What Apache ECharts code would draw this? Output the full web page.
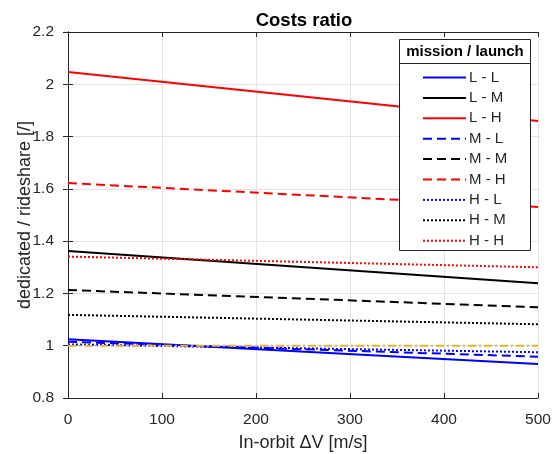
<!DOCTYPE html>
<html>
<head>
<meta charset="utf-8">
<script src="https://cdn.jsdelivr.net/npm/echarts@6/dist/echarts.min.js"></script>
<style>
  html, body { margin: 0; padding: 0; background: #fff; }
  #chart { width: 558px; height: 454px; }
</style>
</head>
<body>
<div id="chart"></div>
<script>
// In-orbit delta-V endpoints [m/s]
const deltaV = [0, 500];

// Series names (mission class / launcher class)
const seriesNames = ['L - L', 'L - M', 'L - H', 'M - L', 'M - M', 'M - H', 'H - L', 'H - M', 'H - H'];

// Cost ratio dedicated / rideshare at each delta-V endpoint
const ratioLL = [1.025, 0.930];
const ratioLM = [1.362, 1.239];
const ratioLH = [2.047, 1.860];
const ratioML = [1.015, 0.958];
const ratioMM = [1.213, 1.147];
const ratioMH = [1.622, 1.531];
const ratioHL = [1.005, 0.975];
const ratioHM = [1.118, 1.082];
const ratioHH = [1.341, 1.300];
// Break-even reference level
const breakEven = [1.0, 1.0];

const yTicks = { min: 0.8, max: 2.2, interval: 0.2 };
const xTicks = { min: 0, max: 500, interval: 100 };

const ratios = [ratioLL, ratioLM, ratioLH, ratioML, ratioMM, ratioMH, ratioHL, ratioHM, ratioHH];
const colors = ['#0000ff', '#000000', '#ff0000'];
const dashes = ['solid', [9, 5], [2, 2]];

const FONT = '"Liberation Sans", Arial, Helvetica, sans-serif';
const TXT = '#262626';

const series = ratios.map((vals, i) => ({
  name: seriesNames[i],
  type: 'line',
  symbol: 'none',
  silent: true,
  animation: false,
  data: deltaV.map((x, k) => [x, vals[k]]),
  lineStyle: { color: colors[i % 3], width: 2, type: dashes[Math.floor(i / 3)] },
  itemStyle: { color: colors[i % 3] }
}));
series.push({
  name: 'break-even',
  type: 'line',
  symbol: 'none',
  silent: true,
  animation: false,
  data: deltaV.map((x, k) => [x, breakEven[k]]),
  lineStyle: { color: '#EDB120', width: 2, type: [8, 3, 2, 3] }
});

const chart = echarts.init(document.getElementById('chart'), null, { renderer: 'canvas' });

const grid = { left: 68, right: 20, top: 32, bottom: 56, containLabel: false, outerBoundsMode: 'none' };

chart.setOption({
  animation: false,
  backgroundColor: '#fff',
  title: {
    text: 'Costs ratio',
    left: 299, top: 6,
    textAlign: 'center',
    textStyle: { fontFamily: FONT, fontSize: 18.5, fontWeight: 'bold', color: '#000' }
  },
  grid: grid,
  xAxis: [{
    type: 'value', min: xTicks.min, max: xTicks.max, interval: xTicks.interval,
    name: 'In-orbit \u0394V [m/s]', nameLocation: 'middle', nameGap: 36, nameMoveOverlap: false,
    nameTextStyle: { fontFamily: FONT, fontSize: 18, color: TXT },
    axisLine: { show: true, lineStyle: { color: TXT, width: 1 } },
    axisTick: { show: true, inside: true, length: 5, lineStyle: { color: TXT } },
    axisLabel: { fontFamily: FONT, fontSize: 15.5, color: TXT, margin: 14 },
    splitLine: { show: true, lineStyle: { color: '#e3e3e3', width: 1 } }
  }, {
    type: 'value', position: 'top', min: xTicks.min, max: xTicks.max, interval: xTicks.interval,
    axisLine: { show: true, lineStyle: { color: TXT, width: 1 } },
    axisTick: { show: true, inside: true, length: 5, lineStyle: { color: TXT } },
    axisLabel: { show: false },
    splitLine: { show: false }
  }],
  yAxis: [{
    type: 'value', min: yTicks.min, max: yTicks.max, interval: yTicks.interval,
    name: 'dedicated / rideshare [/]', nameLocation: 'middle', nameGap: 34, nameMoveOverlap: false,
    nameTextStyle: { fontFamily: FONT, fontSize: 18, color: TXT },
    axisLine: { show: true, lineStyle: { color: TXT, width: 1 } },
    axisTick: { show: true, inside: true, length: 5, lineStyle: { color: TXT } },
    axisLabel: { fontFamily: FONT, fontSize: 15.5, color: TXT, margin: 14 },
    splitLine: { show: true, lineStyle: { color: '#e3e3e3', width: 1 } }
  }, {
    type: 'value', position: 'right', min: yTicks.min, max: yTicks.max, interval: yTicks.interval,
    axisLine: { show: true, lineStyle: { color: TXT, width: 1 } },
    axisTick: { show: true, inside: true, length: 5, lineStyle: { color: TXT } },
    axisLabel: { show: false },
    splitLine: { show: false }
  }],
  legend: {
    data: seriesNames,
    orient: 'vertical',
    left: 422, top: 70,
    padding: 0,
    itemWidth: 43, itemHeight: 14, itemGap: 5.4,
    selectedMode: false,
    itemStyle: { opacity: 0 },
    textStyle: { fontFamily: FONT, fontSize: 15, color: TXT, padding: [0, 0, 0, -2] },
    z: 10
  },
  graphic: [
    { type: 'rect', shape: { x: 399.5, y: 39.5, width: 131, height: 211 },
      style: { fill: '#fff', stroke: '#262626', lineWidth: 1 }, z: 5, silent: true },
    { type: 'line', shape: { x1: 399.5, y1: 63.5, x2: 530.5, y2: 63.5 },
      style: { stroke: '#262626', lineWidth: 1 }, z: 6, silent: true },
    { type: 'text', x: 465, y: 51.5,
      style: { text: 'mission / launch', fontFamily: FONT, fontSize: 15, fontWeight: 'bold',
               fill: '#000', textAlign: 'center', textVerticalAlign: 'middle' }, z: 6, silent: true }
  ],
  series: series
});
</script>
</body>
</html>
